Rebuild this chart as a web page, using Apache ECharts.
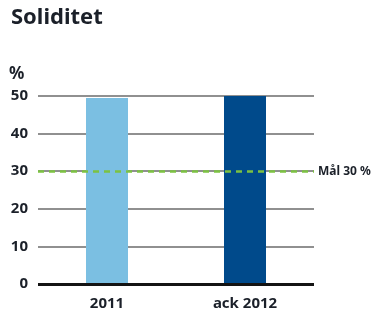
<!DOCTYPE html>
<html lang="sv">
<head>
    <meta charset="UTF-8">
    <title>Soliditet</title>
    <script src="https://cdn.jsdelivr.net/npm/echarts@6/dist/echarts.min.js"></script>
    <style>
        html, body { margin: 0; padding: 0; background: #fff; }
        #chart { width: 380px; height: 313px; }
    </style>
</head>
<body>
    <div id="chart"></div>
<script>
// data
var categories = ['2011', 'ack 2012'];
var values = [49.5, 50];
var barColors = ['#7bbfe2', '#004a8b'];
var target = 30;
var targetLabel = 'Mål 30 %';

var textColor = '#1b2029';
var fontFam = '"Noto Sans", "Open Sans", sans-serif';

var myChart = echarts.init(document.getElementById('chart'));

var option = {
  animation: false,
  title: {
    text: 'Soliditet',
    left: 6, top: 2,
    textStyle: { fontFamily: fontFam, fontSize: 22, fontWeight: 'bold', color: textColor }
  },
  grid: { left: 38, right: 66, top: 96, bottom: 29 },
  xAxis: {
    type: 'category',
    data: categories,
    axisLine: { show: false },
    axisTick: { show: false },
    axisLabel: { color: textColor, fontFamily: fontFam, fontWeight: 'bold', fontSize: 15, margin: 12 }
  },
  yAxis: {
    type: 'value',
    min: 0, max: 50, interval: 10,
    name: '%',
    nameLocation: 'end',
    nameGap: 13,
    nameTextStyle: { color: textColor, fontFamily: fontFam, fontWeight: 'bold', fontSize: 17, align: 'left', padding: [0, 0, 0, -29] },
    axisLine: { show: false },
    axisTick: { show: false },
    axisLabel: { color: textColor, fontFamily: fontFam, fontWeight: 'bold', fontSize: 15, margin: 10 },
    splitLine: { lineStyle: { color: '#6b6b6b', width: 1.5 } }
  },
  series: [
    {
      type: 'line',
      data: [],
      z: 1,
      silent: true,
      markLine: {
        symbol: 'none',
        silent: true,
        lineStyle: { color: '#7cc242', type: [6, 5], width: 2.5 },
        label: {
          position: 'end', distance: 4,
          formatter: targetLabel,
          color: textColor, fontFamily: fontFam, fontWeight: 'bold', fontSize: 12
        },
        data: [{ yAxis: target }]
      }
    },
    {
      type: 'bar',
      z: 3,
      barWidth: 42,
      data: values.map(function (v, i) {
        return { value: v, itemStyle: { color: barColors[i] } };
      })
    },
    {
      // thick baseline at 0
      type: 'line',
      data: [],
      z: 4,
      silent: true,
      markLine: {
        symbol: 'none',
        silent: true,
        label: { show: false },
        lineStyle: { color: '#141414', type: 'solid', width: 3 },
        data: [{ yAxis: 0 }]
      }
    }
  ]
};

myChart.setOption(option);
</script>
</body>
</html>
